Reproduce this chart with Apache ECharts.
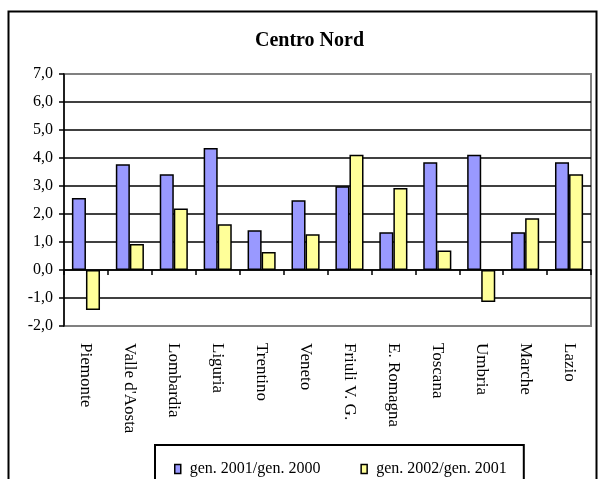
<!DOCTYPE html>
<html>
<head>
<meta charset="utf-8">
<script src="https://cdn.jsdelivr.net/npm/echarts@6/dist/echarts.min.js"></script>
<style>
html,body{margin:0;padding:0;background:#fff;}
#c{width:600px;height:479px;}
</style>
</head>
<body>
<div id="c"></div>
<script>
var titleText = 'Centro Nord';
var categories = ['Piemonte', "Valle d'Aosta", 'Lombardia', 'Liguria', 'Trentino', 'Veneto', 'Friuli V. G.', 'E. Romagna', 'Toscana', 'Umbria', 'Marche', 'Lazio'];
var seriesNames = ['gen. 2001/gen. 2000', 'gen. 2002/gen. 2001'];
var values2001 = [2.57, 3.78, 3.42, 4.36, 1.42, 2.49, 2.99, 1.35, 3.85, 4.12, 1.35, 3.85];
var values2002 = [-1.43, 0.93, 2.20, 1.63, 0.64, 1.28, 4.12, 2.93, 0.70, -1.14, 1.85, 3.42];
var yMin = -2, yMax = 7, yStep = 1;

var serif = 'Liberation Serif';
var chart = echarts.init(document.getElementById('c'), null, {renderer: 'canvas'});
var gridColors = [];
for (var v = yMin; v <= yMax; v += yStep) {
  gridColors.push((v === yMin || v === yMax) ? '#808080' : '#000000');
}
chart.setOption({
  backgroundColor: '#ffffff',
  animation: false,
  title: {
    text: titleText,
    left: 255,
    top: 31,
    padding: 0,
    textStyle: {fontFamily: serif, fontWeight: 'bold', fontSize: 20, color: '#000'}
  },
  graphic: [{
    type: 'rect',
    shape: {x: 8.5, y: 11.5, width: 588, height: 490},
    style: {fill: 'none', stroke: '#000', lineWidth: 2},
    z: 100
  }],
  grid: {
    left: 64, top: 74, width: 527, height: 252,
    show: true, borderColor: '#808080', borderWidth: 2, backgroundColor: '#fff'
  },
  legend: {
    left: 155, top: 445,
    padding: [16, 17, 30, 19],
    borderColor: '#000', borderWidth: 2,
    itemWidth: 6, itemHeight: 9, itemGap: 40,
    icon: 'rect',
    itemStyle: {borderColor: '#000', borderWidth: 1.5},
    textStyle: {fontFamily: serif, fontSize: 16, color: '#000', padding: [0, 0, 0, 4]},
    data: seriesNames
  },
  xAxis: [{
    type: 'category',
    data: categories,
    position: 'bottom',
    axisLine: {show: false, onZero: false},
    axisTick: {show: false},
    axisLabel: {rotate: -90, margin: 17, fontFamily: serif, fontSize: 17, color: '#000', interval: 0}
  }, {
    type: 'category',
    data: categories,
    position: 'bottom',
    axisLine: {show: true, onZero: true, lineStyle: {color: '#000', width: 1.5}},
    axisTick: {show: true, interval: 0, length: 5, lineStyle: {color: '#000', width: 1.5}},
    axisLabel: {show: false, interval: 0}
  }],
  yAxis: {
    type: 'value',
    min: yMin, max: yMax, interval: yStep,
    axisLine: {show: true, lineStyle: {color: '#000', width: 1.5}},
    axisTick: {show: true, length: 5, lineStyle: {color: '#000', width: 1.5}},
    axisLabel: {
      margin: 11, fontFamily: serif, fontSize: 16, color: '#000',
      formatter: function (v) { return v.toFixed(1).replace('.', ','); }
    },
    splitLine: {show: true, lineStyle: {color: gridColors, width: 1.5}}
  },
  series: [{
    name: seriesNames[0],
    type: 'bar',
    xAxisIndex: 1,
    data: values2001,
    barGap: '0%',
    barCategoryGap: '36%',
    itemStyle: {color: '#9999FF', borderColor: '#000', borderWidth: 1.5}
  }, {
    name: seriesNames[1],
    type: 'bar',
    xAxisIndex: 1,
    data: values2002,
    barGap: '0%',
    barCategoryGap: '36%',
    itemStyle: {color: '#FFFF99', borderColor: '#000', borderWidth: 1.5}
  }]
});
</script>
</body>
</html>
